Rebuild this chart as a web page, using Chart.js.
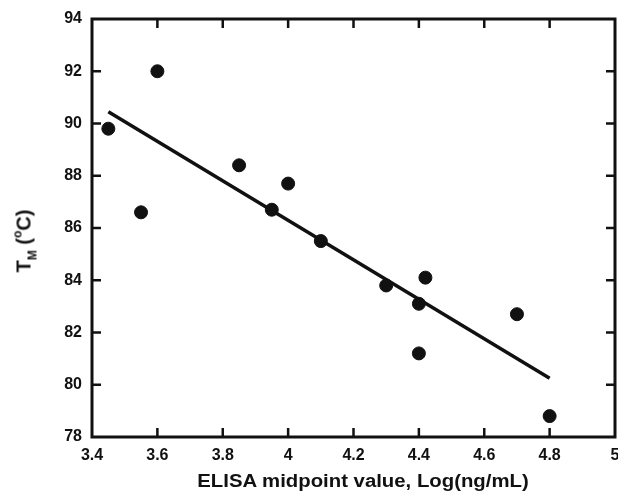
<!DOCTYPE html>
<html>
<head>
<meta charset="utf-8">
<script src="https://cdn.jsdelivr.net/npm/chart.js@4.4.1/dist/chart.umd.min.js"></script>
<style>
  html, body { margin: 0; padding: 0; background: #fff; overflow: hidden; }
  #wrap { position: relative; width: 618px; height: 494px; }
  canvas { display: block; }
  .axTitle {
    position: absolute; white-space: nowrap; color: #111;
    font-family: "Liberation Sans", Arial, sans-serif; font-weight: bold;
  }
  #yTitle {
    left: 25px; top: 241px; font-size: 20px;
    transform: translate(-50%, -50%) rotate(-90deg);
  }
  #yTitle sub { font-size: 12px; vertical-align: -6px; }
  #yTitle sup { font-size: 12px; vertical-align: 9px; }
  #xTitle {
    left: 363px; top: 481px; font-size: 18px;
    transform: translate(-50%, -50%) scaleX(1.13);
  }
</style>
</head>
<body>
<div id="wrap">
  <canvas id="chart" width="618" height="494"></canvas>
  <div id="yTitle" class="axTitle">T<sub>M</sub> (<sup>o</sup>C)</div>
  <div id="xTitle" class="axTitle">ELISA midpoint value, Log(ng/mL)</div>
</div>
<script>
// measured points: ELISA midpoint (log ng/mL) vs melting temp
const elisaLog = [3.45, 3.55, 3.6, 3.85, 3.95, 4.0, 4.1, 4.3, 4.4, 4.42, 4.4, 4.7, 4.8];
const meltTemp = [89.8, 86.6, 92.0, 88.4, 86.7, 87.7, 85.5, 83.8, 83.1, 84.1, 81.2, 82.7, 78.8];

// linear fit end points
const fitX = [3.45, 4.8];
const fitY = [90.45, 80.25];

const xTicks = [3.4, 3.6, 3.8, 4, 4.2, 4.4, 4.6, 4.8, 5];
const yTicks = [78, 80, 82, 84, 86, 88, 90, 92, 94];

const labelFont = { family: '"Liberation Sans", Arial, sans-serif', size: 16, weight: 'bold' };

// ticks pointing into the plot on all four sides, plus frame
const innerTicks = {
  id: 'innerTicks',
  afterDraw(chart) {
    const { ctx, chartArea: a, scales } = chart;
    const len = 9;
    ctx.save();
    ctx.strokeStyle = '#111';
    ctx.lineWidth = 2.5;
    xTicks.slice(1, -1).forEach(v => {
      const px = scales.x.getPixelForValue(v);
      ctx.beginPath();
      ctx.moveTo(px, a.bottom); ctx.lineTo(px, a.bottom - len);
      ctx.moveTo(px, a.top); ctx.lineTo(px, a.top + len);
      ctx.stroke();
    });
    yTicks.slice(1, -1).forEach(v => {
      const py = scales.y.getPixelForValue(v);
      ctx.beginPath();
      ctx.moveTo(a.left, py); ctx.lineTo(a.left + len, py);
      ctx.moveTo(a.right, py); ctx.lineTo(a.right - len, py);
      ctx.stroke();
    });
    ctx.lineWidth = 3;
    ctx.strokeRect(a.left, a.top, a.right - a.left, a.bottom - a.top);
    ctx.restore();
  }
};

const ctx = document.getElementById('chart').getContext('2d');
new Chart(ctx, {
  type: 'scatter',
  data: {
    datasets: [
      {
        label: 'Tm',
        data: elisaLog.map((x, i) => ({ x: x, y: meltTemp[i] })),
        backgroundColor: '#111',
        borderColor: '#111',
        pointRadius: 6.5,
        pointHoverRadius: 6.5
      },
      {
        label: 'fit',
        type: 'line',
        data: fitX.map((x, i) => ({ x: x, y: fitY[i] })),
        borderColor: '#111',
        borderWidth: 3.5,
        pointRadius: 0,
        fill: false
      }
    ]
  },
  options: {
    responsive: false,
    animation: false,
    layout: { autoPadding: false, padding: { left: 0, right: 3, top: 19, bottom: 0 } },
    plugins: { legend: { display: false }, tooltip: { enabled: false } },
    scales: {
      x: {
        type: 'linear', min: 3.4, max: 5,
        afterBuildTicks: s => { s.ticks = xTicks.map(v => ({ value: v })); },
        afterFit: s => { s.height = 57; s.paddingLeft = 0; s.paddingRight = 0; },
        grid: { display: false, drawTicks: false },
        border: { display: false },
        ticks: { color: '#111', font: labelFont, padding: 9, maxRotation: 0,
                 callback: v => String(v) }
      },
      y: {
        type: 'linear', min: 78, max: 94,
        afterBuildTicks: s => { s.ticks = yTicks.map(v => ({ value: v })); },
        afterFit: s => { s.width = 92; s.paddingTop = 0; s.paddingBottom = 0; },
        grid: { display: false, drawTicks: false },
        border: { display: false },
        ticks: { color: '#111', font: labelFont, padding: 10 }
      }
    }
  },
  plugins: [innerTicks]
});
</script>
</body>
</html>
